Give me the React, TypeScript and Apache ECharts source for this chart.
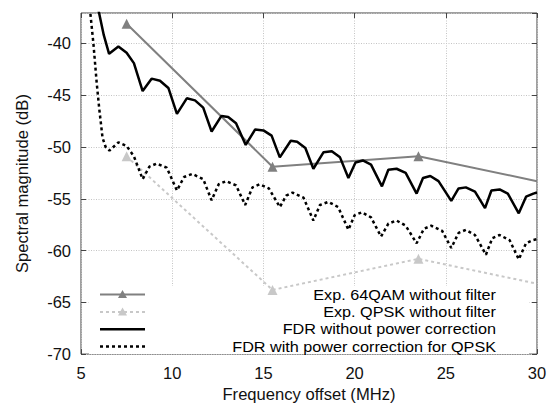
import React, { useEffect, useRef } from "react";
import * as echarts from "echarts";

const xTicks = [5, 10, 15, 20, 25, 30];
const yTicks = [-70, -65, -60, -55, -50, -45, -40];

const legendNames = [
  "Exp. 64QAM without filter",
  "Exp. QPSK without filter",
  "FDR without power correction",
  "FDR with power correction for QPSK",
];

const exp64qam: [number, number][] = [
  [7.5, -38.1],
  [15.5, -51.9],
  [23.5, -50.9],
  [30, -53.3],
];

const expQpsk: [number, number][] = [
  [7.5, -50.9],
  [15.5, -63.8],
  [23.5, -60.8],
  [30, -63.2],
];

const fdrNoCorr: [number, number][] = [
  [5.9, -36.3], [6.25, -39.2], [6.54, -41.0], [7.05, -40.3], [7.5, -40.9], [7.9, -41.9],
  [8.38, -44.6], [8.87, -43.4], [9.33, -43.6], [9.79, -44.3], [10.26, -46.8], [10.8, -45.3],
  [11.25, -45.5], [11.7, -46.2], [12.16, -48.5], [12.7, -47.0], [13.07, -47.1], [13.5, -47.7],
  [14.03, -49.8], [14.55, -48.3], [15.0, -48.4], [15.45, -48.9], [15.9, -51.0], [16.5, -49.4],
  [16.85, -49.5], [17.3, -50.1], [17.74, -52.1], [18.3, -50.5], [18.75, -50.4], [19.2, -51.0],
  [19.66, -53.0], [20.05, -51.5], [20.45, -51.3], [20.9, -51.7], [21.5, -53.8], [21.85, -52.2],
  [22.3, -52.1], [22.8, -52.5], [23.4, -54.5], [23.75, -53.0], [24.15, -52.8], [24.6, -53.3],
  [25.3, -55.2], [25.7, -54.0], [26.1, -53.9], [26.6, -54.3], [27.15, -55.9], [27.5, -54.2],
  [27.95, -54.1], [28.4, -54.5], [29.0, -56.4], [29.4, -54.8], [29.8, -54.5], [30, -54.4],
];

const fdrCorr: [number, number][] = [
  [5.45, -36.0], [5.68, -40.0], [5.86, -43.8], [6.0, -46.3], [6.18, -49.1], [6.35, -50.0],
  [6.56, -50.35], [7.05, -49.55], [7.5, -49.9], [7.9, -50.9], [8.38, -53.1], [8.75, -51.9],
  [9.14, -51.6], [9.7, -52.0], [10.26, -54.2], [10.65, -52.9], [11.1, -52.6], [11.7, -53.1],
  [12.16, -55.15], [12.55, -53.6], [12.95, -53.3], [13.5, -53.7], [14.0, -55.6], [14.4, -53.9],
  [14.8, -53.6], [15.3, -54.0], [15.9, -55.8], [16.25, -54.7], [16.6, -54.4], [17.2, -54.9],
  [17.74, -57.1], [18.1, -55.6], [18.56, -55.3], [19.1, -55.8], [19.66, -58.0], [20.0, -56.6],
  [20.4, -56.3], [20.9, -56.8], [21.45, -58.65], [21.85, -57.4], [22.3, -57.1], [22.8, -57.6],
  [23.4, -59.3], [23.8, -57.9], [24.2, -57.6], [24.8, -58.1], [25.3, -59.75], [25.7, -58.3],
  [26.1, -58.0], [26.6, -58.5], [27.2, -60.4], [27.55, -58.8], [27.95, -58.5], [28.5, -59.0],
  [29.0, -60.85], [29.4, -59.3], [29.75, -59.0], [30, -58.9],
];

const FONT = "'Liberation Sans', Arial, sans-serif";
const C64 = "#808080";
const CQ = "#c8c8c8";

function markerData(pts: [number, number][]) {
  return pts.map((p, i) =>
    i === pts.length - 1 ? { value: p, symbol: "none" } : { value: p }
  );
}

export default function App() {
  const ref = useRef<HTMLDivElement>(null);
  useEffect(() => {
    if (!ref.current) return;
    const chart = echarts.init(ref.current, undefined, { renderer: "svg" });

    const rowY = [294.6, 311.9, 329.2, 346.5];
    const lx1 = 100, lx2 = 145, lmx = 122.5, textX = 496;
    const tri = (cx: number, cy: number) => [
      [cx, cy - 4.5],
      [cx - 4.5, cy + 3.5],
      [cx + 4.5, cy + 3.5],
    ];
    const legendStyles = [
      { stroke: C64, lineWidth: 2, lineDash: null as any },
      { stroke: CQ, lineWidth: 2, lineDash: [3, 3] },
      { stroke: "#000", lineWidth: 2.5, lineDash: null as any },
      { stroke: "#000", lineWidth: 2.5, lineDash: [3, 3] },
    ];
    const graphics: any[] = [
      {
        type: "rect",
        z: 1,
        shape: { x: 89, y: 286, width: 440, height: 68 },
        style: { fill: "#fff" },
        silent: true,
      },
    ];
    legendNames.forEach((name, i) => {
      graphics.push({
        type: "line",
        z: 10,
        shape: { x1: lx1, y1: rowY[i], x2: lx2, y2: rowY[i] },
        style: { ...legendStyles[i], lineDash: legendStyles[i].lineDash || undefined },
      });
      if (i < 2) {
        graphics.push({
          type: "polygon",
          z: 11,
          shape: { points: tri(lmx, rowY[i]) },
          style: { fill: i === 0 ? C64 : CQ },
        });
      }
      graphics.push({
        type: "text",
        z: 10,
        x: textX,
        y: rowY[i],
        scaleX: 1.08,
        style: {
          text: name,
          align: "right",
          verticalAlign: "middle",
          fontFamily: FONT,
          fontSize: 15,
          lineHeight: 15,
          fill: "#000",
        },
      });
    });

    const axisCommon = {
      axisLine: { show: false },
      axisTick: { show: true, inside: true, length: 5, lineStyle: { color: "#444" } },
    };

    chart.setOption({
      animation: false,
      grid: {
        left: 81,
        right: 14,
        top: 13,
        bottom: 51,
        show: true,
        borderColor: "#404040",
        borderWidth: 1,
        backgroundColor: "#fff",
      },
      xAxis: [
        {
          type: "value",
          min: xTicks[0],
          max: xTicks[xTicks.length - 1],
          interval: 5,
          ...axisCommon,
          axisLabel: {
            margin: 10,
            fontFamily: FONT,
            fontSize: 16.5,
            color: "#111",
          },
          splitLine: { show: true, lineStyle: { color: "#c4c4c4", type: [1, 1.5], width: 1 } },
          name: "Frequency offset (MHz)",
          nameLocation: "middle",
          nameGap: 31,
          nameTextStyle: { fontFamily: FONT, fontSize: 16.6, color: "#111" },
        },
        {
          type: "value",
          position: "top",
          min: xTicks[0],
          max: xTicks[xTicks.length - 1],
          interval: 5,
          ...axisCommon,
          axisLabel: { show: false },
          splitLine: { show: false },
        },
      ],
      yAxis: [
        {
          type: "value",
          min: yTicks[0],
          max: -37.06,
          interval: 5,
          ...axisCommon,
          axisLabel: {
            margin: 10,
            fontFamily: FONT,
            fontSize: 16.5,
            color: "#111",
            showMaxLabel: false,
            formatter: (v: number) => (yTicks.includes(v) ? String(v) : ""),
          },
          splitLine: { show: true, lineStyle: { color: "#c4c4c4", type: [1, 1.5], width: 1 } },
          name: "Spectral magnitude (dB)",
          nameLocation: "middle",
          nameGap: 50,
          nameTextStyle: { fontFamily: FONT, fontSize: 16.6, color: "#111" },
        },
        {
          type: "value",
          position: "right",
          min: yTicks[0],
          max: -37.06,
          interval: 5,
          ...axisCommon,
          axisLabel: { show: false },
          splitLine: { show: false },
        },
      ],
      series: [
        {
          name: legendNames[0],
          type: "line",
          data: markerData(exp64qam),
          symbol: "triangle",
          symbolSize: 10,
          showAllSymbol: true,
          itemStyle: { color: C64 },
          lineStyle: { color: C64, width: 2 },
          z: 3,
        },
        {
          name: legendNames[1],
          type: "line",
          data: markerData(expQpsk),
          symbol: "triangle",
          symbolSize: 10,
          itemStyle: { color: CQ },
          lineStyle: { color: CQ, width: 2, type: [3, 3] },
          z: 3,
        },
        {
          name: legendNames[2],
          type: "line",
          data: fdrNoCorr,
          symbol: "none",
          lineStyle: { color: "#000", width: 2.5 },
          z: 4,
        },
        {
          name: legendNames[3],
          type: "line",
          data: fdrCorr,
          symbol: "none",
          lineStyle: { color: "#000", width: 2.5, type: [3, 3] },
          z: 4,
        },
      ],
      graphic: graphics,
    });

    return () => chart.dispose();
  }, []);

  return (
    <div
      ref={ref}
      style={{ width: 551, height: 408, position: "absolute", left: 0, top: 0 }}
    />
  );
}
